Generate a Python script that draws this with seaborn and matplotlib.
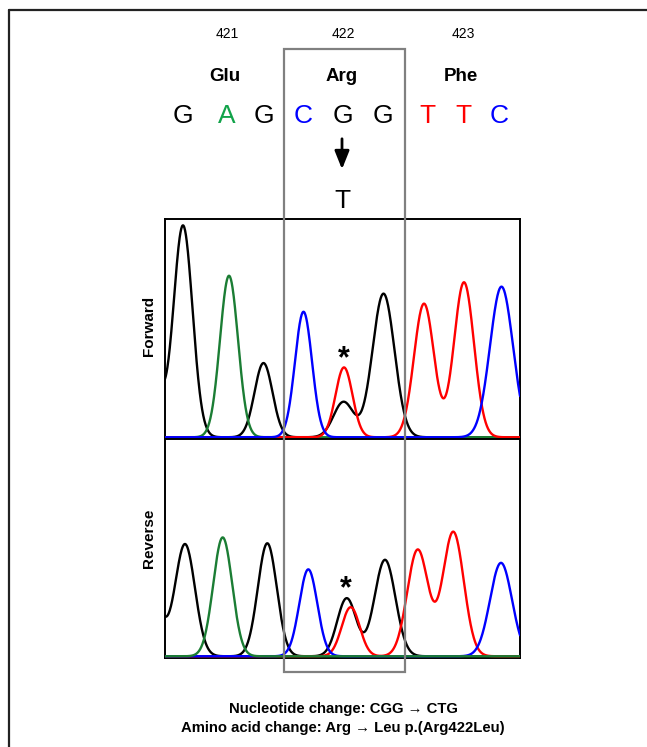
import numpy as np
import pandas as pd
import matplotlib.pyplot as plt
import seaborn as sns
from matplotlib.patches import Rectangle
from matplotlib.lines import Line2D

# 配列の情報
codons = ['421', '422', '423']
amino_acids = ['Glu', 'Arg', 'Phe']
sequence = ['G', 'A', 'G', 'C', 'G', 'G', 'T', 'T', 'C']
mutant_base = 'T'
notes = ['Nucleotide change: CGG \u2192 CTG',
         'Amino acid change: Arg \u2192 Leu p.(Arg422Leu)']

# 波形のピーク（位置 = 横軸, 高さ = パネル高さに対する比, 幅 = σ）
fwd_base = ['G', 'G', 'A', 'G', 'C', 'T', 'G', 'G', 'T', 'T', 'C']
fwd_pos = [148, 183, 229, 263.5, 303.5, 344, 343.5, 383.5, 424, 464, 501.5]
fwd_height = [0.45, 0.97, 0.74, 0.34, 0.575, 0.32, 0.162, 0.658, 0.612, 0.71, 0.69]
fwd_width = [10, 9.5, 9, 9, 8.5, 8.5, 10, 11, 10, 10, 11.5]

rev_base = ['G', 'G', 'A', 'G', 'C', 'G', 'T', 'G', 'T', 'T', 'C']
rev_pos = [150, 185, 222.7, 267.3, 308.3, 346.7, 350.7, 385, 417.7, 453.3, 501]
rev_height = [0.35, 0.516, 0.547, 0.52, 0.40, 0.267, 0.226, 0.444, 0.49, 0.572, 0.43]
rev_width = [10, 10, 9.5, 9.5, 9, 9.5, 9, 10.5, 10.5, 10.5, 11]

base_colors = {'G': 'black', 'A': '#1b7d34', 'T': '#ff0000', 'C': '#0000ff'}
letter_colors = {'G': 'black', 'A': '#12a34a', 'T': '#ff0000', 'C': '#0000ff'}

x_grid = np.linspace(165, 520, 900)


def make_trace(bases, pos, height, width):
    rows = []
    for b in ['G', 'A', 'T', 'C']:
        sig = np.zeros_like(x_grid)
        for bb, p, h, w in zip(bases, pos, height, width):
            if bb == b:
                sig += h * np.exp(-(x_grid - p) ** 2 / (2 * w ** 2))
        rows.append(pd.DataFrame({'x': x_grid, 'signal': sig, 'base': b}))
    return pd.concat(rows, ignore_index=True)


fwd = make_trace(fwd_base, fwd_pos, fwd_height, fwd_width)
rev = make_trace(rev_base, rev_pos, rev_height, rev_width)

sns.set_style('white')
plt.rcParams['font.family'] = ['Liberation Sans', 'DejaVu Sans']
plt.rcParams['text.color'] = 'black'

W, H = 647, 747
fig = plt.figure(figsize=(W / 100, H / 100), dpi=100)

# 波形パネル
ax_f = fig.add_axes([165 / W, 1 - 439 / H, 355 / W, 220 / H])
ax_r = fig.add_axes([165 / W, 1 - 658 / H, 355 / W, 219 / H])
for ax, df, order in [(ax_f, fwd, ['G', 'A', 'T', 'C']),
                      (ax_r, rev, ['G', 'T', 'C', 'A'])]:
    sns.lineplot(data=df, x='x', y='signal', hue='base', hue_order=order,
                 palette=base_colors, legend=False, lw=1.7, ax=ax, zorder=3)
    ax.set_xlim(165, 520)
    ax.set_ylim(-0.008, 1.0)
    ax.set_xticks([])
    ax.set_yticks([])
    ax.set_xlabel('')
    ax.set_ylabel('')
    for s in ax.spines.values():
        s.set_visible(True)
        s.set_color('black')
        s.set_linewidth(1.4)

# 文字や枠を描く重ね合わせ用の軸（ピクセル座標）
ov = fig.add_axes([0, 0, 1, 1], zorder=10)
ov.set_xlim(0, W)
ov.set_ylim(H, 0)
ov.axis('off')
ov.patch.set_alpha(0)

ov.add_line(Line2D([8.5, 8.5], [9.5, H], color='#222222', lw=1.6))
ov.add_line(Line2D([8.5, W], [9.5, 9.5], color='#222222', lw=1.6))

ov.add_patch(Rectangle((283.5, 49), 121.5, 623, fill=False,
                       edgecolor='#808080', lw=1.6))

codon_x = [227, 343, 463]
aa_x = [225, 342, 461]
for cx, c in zip(codon_x, codons):
    ov.text(cx, 38.3, c, ha='center', va='baseline', fontsize=10)
for ax_, a in zip(aa_x, amino_acids):
    ov.text(ax_, 81, a, ha='center', va='baseline', fontsize=13.5,
            fontweight='bold')

letter_x = [183, 227, 264, 303, 343, 383, 427, 463, 499]
for lx, s in zip(letter_x, sequence):
    ov.text(lx, 123, s, ha='center', va='baseline', fontsize=19,
            color=letter_colors[s])

ov.annotate('', xy=(342, 172), xytext=(342, 136),
            arrowprops=dict(arrowstyle='-|>,head_length=0.55,head_width=0.22',
                            lw=2, color='black', mutation_scale=20))
ov.text(342, 208, mutant_base, ha='center', va='baseline', fontsize=19)

ov.text(148.7, 326, 'Forward', rotation=90, ha='center', va='center',
        fontsize=11, fontweight='bold')
ov.text(148.7, 538, 'Reverse', rotation=90, ha='center', va='center',
        fontsize=11, fontweight='bold')

ov.text(344, 367, '*', ha='center', va='baseline', fontsize=22,
        fontweight='bold')
ov.text(346, 597, '*', ha='center', va='baseline', fontsize=22,
        fontweight='bold')

ov.text(343, 713.3, notes[0], ha='center', va='baseline', fontsize=10.7,
        fontweight='bold')
ov.text(343, 732, notes[1], ha='center', va='baseline', fontsize=10.7,
        fontweight='bold')

fig.savefig('out.png', dpi=100)
